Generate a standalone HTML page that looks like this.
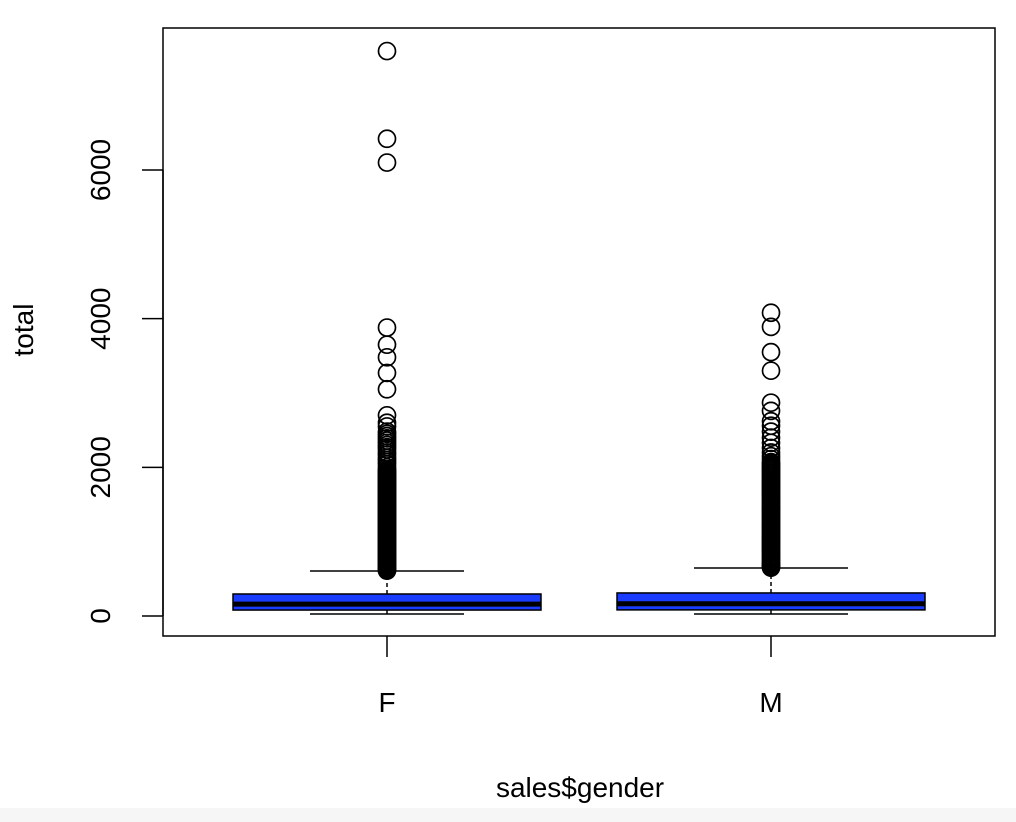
<!DOCTYPE html>
<html><head><meta charset="utf-8"><style>
html,body{margin:0;padding:0;background:#fff;}
svg{display:block;font-family:"Liberation Sans",sans-serif;}
</style></head><body>
<svg id="chart" width="1016" height="822">
<rect x="0" y="808" width="1016" height="14" fill="#f6f6f6"/>
<g id="plot"></g>
<rect x="163" y="28" width="832" height="608" fill="none" stroke="#000" stroke-width="1.5"/>
<g id="yaxis"></g>
<g id="xaxis"></g>
<text x="580" y="797" font-size="28" text-anchor="middle">sales$gender</text>
<text x="33" y="330" font-size="28" text-anchor="middle" transform="rotate(-90 33 330)">total</text>
</svg>
<script>
const categories = ["F","M"];
const lowerWhisker = [27, 27];
const q1 = [80, 82];
const median = [160, 165];
const q3 = [296, 310];
const upperWhisker = [605, 645];
const outliersF = [7600,6420,6100,3880,3650,3480,3270,3050,2700,2600,2550,2480,2450,2420,2390,2360,2330,2300,2270,2240,2200,2170,2130,2100,2070,2040,2000,1970,1940,1910,1880,1850,1820,1790,1760,1730,1700,1670,1640,1610,1580,1550,1520,1490,1460,1430,1400,1370,1340,1310,1280,1250,1220,1190,1160,1130,1100,1070,1040,1010,980,950,920,890,860,830,800,770,740,710,680,650,625,610,
 1955,1925,1895,1865,1835,1805,1775,1745,1715,1685,1655,1625,1595,1565,1535,1505,1475,1445,1415,1385,1355,1325,1295,1265,1235,1205,1175,1145,1115,1085,1055,1025,995,965,935,905,875,845,815,785,755,725,695,665,640,618];
const outliersM = [4080,3890,3550,3300,2870,2760,2620,2560,2480,2400,2330,2260,2200,2150,2110,2070,2030,1990,1950,1910,1870,1830,1790,1750,1710,1670,1630,1590,1550,1510,1470,1430,1390,1350,1310,1270,1230,1190,1150,1110,1070,1030,990,950,910,870,830,790,750,710,680,660,650,
 2050,2010,1970,1930,1890,1850,1810,1770,1730,1690,1650,1610,1570,1530,1490,1450,1410,1370,1330,1290,1250,1210,1170,1130,1090,1050,1010,970,930,890,850,810,770,730,700,670];
const yTicks = [0,2000,4000,6000];

const NS="http://www.w3.org/2000/svg";
const yScale = v => 616 - v*(446/6000);
const xScale = i => 387 + i*384;
const halfW = 154;
function mk(tag, attrs, parent){const e=document.createElementNS(NS,tag);for(const k in attrs)e.setAttribute(k,attrs[k]);parent.appendChild(e);return e;}
const plot=document.getElementById('plot');
const outs=[outliersF,outliersM];
categories.forEach((c,i)=>{
  const cx=xScale(i);
  const g=mk('g',{},plot);
  
  
  let l=mk('line',{x1:cx,x2:cx,y1:yScale(q3[i]),y2:yScale(upperWhisker[i]),stroke:'#000','stroke-width':1.5,'stroke-dasharray':'4 3'},g);
  
  
  l=mk('line',{x1:cx,x2:cx,y1:yScale(q1[i]),y2:yScale(lowerWhisker[i]),stroke:'#000','stroke-width':1.5},g);
  
  
  l=mk('line',{x1:cx-halfW/2,x2:cx+halfW/2,y1:yScale(upperWhisker[i]),y2:yScale(upperWhisker[i]),stroke:'#000','stroke-width':1.5},g);
  
  
  l=mk('line',{x1:cx-halfW/2,x2:cx+halfW/2,y1:yScale(lowerWhisker[i]),y2:yScale(lowerWhisker[i]),stroke:'#000','stroke-width':1.5},g);
  
  
  const r=mk('rect',{x:cx-halfW,y:yScale(q3[i]),width:2*halfW,height:yScale(q1[i])-yScale(q3[i]),fill:'#1a3cff',stroke:'#000','stroke-width':1.5},g);
  
  
  l=mk('line',{x1:cx-halfW,x2:cx+halfW,y1:yScale(median[i]),y2:yScale(median[i]),stroke:'#000','stroke-width':5},g);
  
  
  outs[i].forEach(v=>{
    const p=mk('circle',{cx:cx,cy:yScale(v),r:8.5,fill:'none',stroke:'#000','stroke-width':1.7},g);
    
    
  });
});
const ya=document.getElementById('yaxis');
mk('line',{x1:163,x2:163,y1:yScale(0),y2:yScale(6000),stroke:'#000','stroke-width':1.5},ya);
yTicks.forEach(t=>{
  const y=yScale(t);
  const tk=mk('line',{x1:142,x2:163,y1:y,y2:y,stroke:'#000','stroke-width':1.5},ya);
  
  
  const tx=mk('text',{x:110,y:y,'font-size':28,'text-anchor':'middle',transform:`rotate(-90 110 ${y})`},ya);
  tx.textContent=t;
  
  
});
const xa=document.getElementById('xaxis');
categories.forEach((c,i)=>{
  const x=xScale(i);
  const tk=mk('line',{x1:x,x2:x,y1:636,y2:657,stroke:'#000','stroke-width':1.5},xa);
  
  
  const tx=mk('text',{x:x,y:712,'font-size':28,'text-anchor':'middle'},xa);
  tx.textContent=c;
  
  
});
</script>
</body></html>
